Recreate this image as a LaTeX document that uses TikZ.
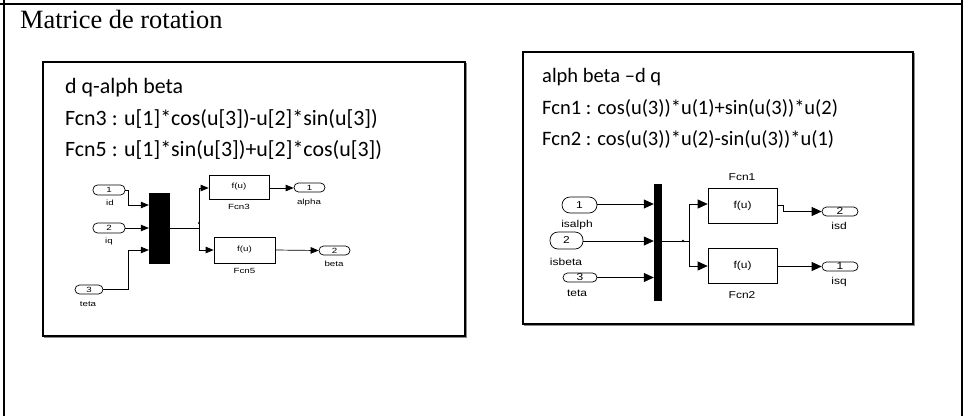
\documentclass[tikz,border=0pt]{standalone}
\usepackage{fontspec}
\setmainfont{Liberation Serif}
\newfontfamily\notefont{Carlito}
\newfontfamily\blkA[FakeStretch=1.3]{Liberation Sans}
\newfontfamily\blkB[FakeStretch=1.2]{Liberation Sans}
\usetikzlibrary{arrows.meta}

\begin{document}
\begin{tikzpicture}[x=1pt,y=-1pt,
  frame/.style={line width=1.4pt},
  panel/.style={draw=black,line width=1.6pt},
  shadow/.style={draw=black!45,line width=1pt},
  note/.style={anchor=base west,inner sep=0pt,font=\notefont\fontsize{20.5}{24}\selectfont},
  noteA/.style={note,font=\notefont\fontsize{21.9}{24}\selectfont},
  port/.style={draw,rectangle,rounded corners=4.5pt,inner sep=0pt,line width=0.7pt},
  fcnbox/.style={draw,rectangle,inner sep=0pt,line width=0.7pt},
  muxbar/.style={fill=black,rectangle,inner sep=0pt},
  lab/.style={inner sep=0pt},
  fA/.style={font=\blkA\fontsize{7.5}{8}\selectfont},
  fB/.style={font=\blkB\fontsize{10}{11}\selectfont},
  sigA/.style={draw,line width=0.7pt,-{Triangle[length=8pt,width=6.5pt]}},
  sigB/.style={draw,line width=0.7pt,-{Triangle[length=10pt,width=9pt]}},
  wire/.style={draw,line width=0.7pt}
]
\useasboundingbox (0,0) rectangle (963,416);

% table cell borders
\draw[frame] (0,4) -- (963,4);
\draw[frame] (4,0) -- (4,416);
\draw[frame] (962,0) -- (962,416);

\node[anchor=base west,inner sep=0pt,font=\fontsize{26.4}{30}\selectfont] (title) at (20,28) {Matrice de rotation};

% ---------- panel: dq -> alpha beta ----------
\draw[shadow] (44,337) -- (466,337) -- (466,63);
\draw[panel] (43,62) rectangle (465,336);
\node[noteA] (nA0) at (65,93) {d q-alph beta};
\node[noteA] (nA1) at (65,125) {Fcn3 : u[1]*cos(u[3])-u[2]*sin(u[3])};
\node[noteA] (nA2) at (65,156) {Fcn5 : u[1]*sin(u[3])+u[2]*cos(u[3])};

\node[port,fA,minimum width=32pt,minimum height=10pt] (inA1) at (109,190) {1};
\node[lab,fA] (lA1) at (110,203) {id};
\node[port,fA,minimum width=32pt,minimum height=10pt] (inA2) at (109,228) {2};
\node[lab,fA] (lA2) at (109,242) {iq};
\node[port,fA,minimum width=28pt,minimum height=9pt] (inA3) at (89,289.5) {3};
\node[lab,fA] (lA3) at (88,304) {teta};

\node[muxbar,minimum width=21pt,minimum height=71pt] (muxA) at (159.5,228.5) {};

\node[fcnbox,fA,minimum width=60pt,minimum height=24pt] (fcn3) at (239,187) {f(u)};
\node[lab,fA] (lF3) at (239,207) {Fcn3};
\node[fcnbox,fA,minimum width=61pt,minimum height=26pt] (fcn5) at (244.5,250) {f(u)};
\node[lab,fA] (lF5) at (244.5,271) {Fcn5};

\node[port,fA,minimum width=31pt,minimum height=9pt] (outA1) at (309.5,187.5) {1};
\node[lab,fA] (lO1) at (309,203) {alpha};
\node[port,fA,minimum width=31pt,minimum height=9pt] (outA2) at (334.5,250.5) {2};
\node[lab,fA] (lO2) at (334,264) {beta};

\coordinate (jA) at (199,228);
\path[sigA] (inA1.east) -- (128,190) |- (muxA.west |- 0,205);
\path[sigA] (inA2.east) -- (muxA.west |- 0,228);
\path[sigA] (inA3.east) -- (128,289.5) |- (muxA.west |- 0,250);
\path[wire] (muxA.east |- jA) -- (jA);
\fill (jA) ++(0,-5) circle (1.2pt);
\path[sigA] (jA) |- (fcn3.west |- 0,188);
\path[sigA] (jA) |- (fcn5.west);
\path[sigA] (fcn3.east |- 0,188) -- (outA1.west |- 0,188);
\path[sigA] (fcn5.east) -- (outA2.west);

% ---------- panel: alpha beta -> dq ----------
\draw[shadow] (524,325) -- (914,325) -- (914,53);
\draw[panel] (523,52) rectangle (913,324);
\node[note] (nB0) at (542,82) {alph beta \textendash d q};
\node[note] (nB1) at (542,114) {Fcn1 : cos(u(3))*u(1)+sin(u(3))*u(2)};
\node[note] (nB2) at (542,145) {Fcn2 : cos(u(3))*u(2)-sin(u(3))*u(1)};

\node[port,fB,rounded corners=8pt,minimum width=35pt,minimum height=16pt] (inB1) at (579.5,205) {1};
\node[lab,fB] (lB1) at (577,225) {isalph};
\node[port,fB,rounded corners=8pt,minimum width=33pt,minimum height=17pt] (inB2) at (566.5,240.5) {2};
\node[lab,fB] (lB2) at (566,262) {isbeta};
\node[port,fB,minimum width=34pt,minimum height=9pt] (inB3) at (580,277.5) {3};
\node[lab,fB] (lB3) at (577,293) {teta};

\node[muxbar,minimum width=8pt,minimum height=117pt] (muxB) at (658,242.5) {};

\node[fcnbox,fB,minimum width=69pt,minimum height=35pt] (fcn1) at (742.5,205.5) {f(u)};
\node[lab,fB] (lF1) at (742,177) {Fcn1};
\node[fcnbox,fB,minimum width=69pt,minimum height=35pt] (fcn2) at (742.5,265.5) {f(u)};
\node[lab,fB] (lF2) at (742,295) {Fcn2};

\node[port,fB,minimum width=36pt,minimum height=9pt] (outB1) at (840,211.5) {2};
\node[lab,fB] (lP1) at (839,226) {isd};
\node[port,fB,minimum width=36pt,minimum height=9pt] (outB2) at (840,266.5) {1};
\node[lab,fB] (lP2) at (839,282) {isq};

\coordinate (jB) at (689,241);
\path[sigB] (inB1.east |- 0,204) -- (muxB.west |- 0,204);
\path[sigB] (inB2.east |- 0,241) -- (muxB.west |- 0,241);
\path[sigB] (inB3.east) -- (muxB.west |- 0,277.5);
\path[wire] (muxB.east |- jB) -- (jB);
\fill (683,241) circle (1.3pt);
\path[sigB] (jB) |- (fcn1.west |- 0,204);
\path[sigB] (jB) |- (fcn2.west |- 0,266);
\path[sigB] (fcn1.east) -- (783,205.5) |- (outB1.west);
\path[sigB] (fcn2.east |- 0,266.5) -- (outB2.west);
\end{tikzpicture}
\end{document}
